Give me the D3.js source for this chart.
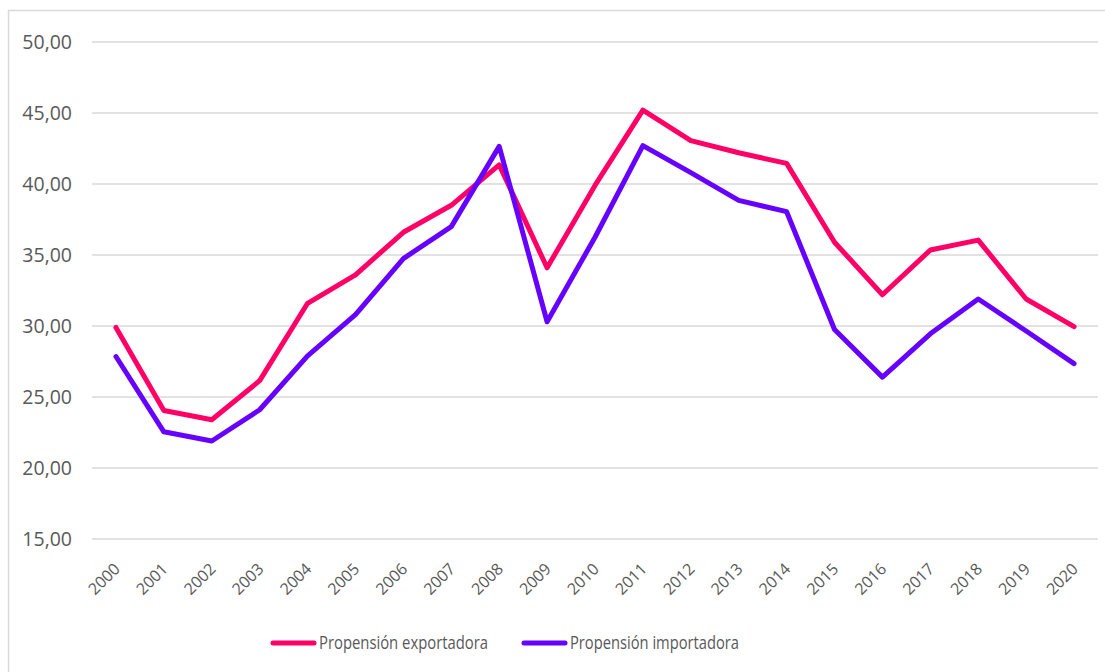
<!DOCTYPE html>
<html>
<head>
<meta charset="utf-8">
<script src="https://cdn.jsdelivr.net/npm/d3@7"></script>
<style>
  body { margin: 0; background: #fff; }
  svg { display: block; font-family: "Open Sans", "Noto Sans", sans-serif; }
</style>
</head>
<body>
<div id="chart"></div>
<script>
// data
const years = ['2000','2001','2002','2003','2004','2005','2006','2007','2008','2009','2010',
  '2011','2012','2013','2014','2015','2016','2017','2018','2019','2020'];
const exportadora = [29.9, 24.05, 23.4, 26.15, 31.6, 33.6, 36.6, 38.5, 41.35, 34.1, 39.9,
  45.2, 43.05, 42.2, 41.45, 35.9, 32.2, 35.35, 36.05, 31.9, 29.95];
const importadora = [27.85, 22.55, 21.9, 24.1, 27.9, 30.8, 34.75, 37.0, 42.65, 30.3, 36.25,
  42.7, 40.8, 38.85, 38.05, 29.75, 26.4, 29.45, 31.9, 29.65, 27.35];
const yTicks = [15, 20, 25, 30, 35, 40, 45, 50];
const seriesNames = ['Propensión exportadora', 'Propensión importadora'];
const colors = ['#FF0066', '#6600FF'];

const width = 1105, height = 672;
const margin = {top: 42, right: 7, bottom: 133, left: 92};

const svg = d3.select('#chart').append('svg')
  .attr('width', width)
  .attr('height', height);

// chart frame (only top and left edges visible)
svg.append('path')
  .attr('d', 'M8.5,' + height + 'V10.5H' + width)
  .attr('fill', 'none')
  .attr('stroke', '#d9d9d9')
  .attr('stroke-width', 1.5);

const x = d3.scaleBand()
  .domain(years)
  .range([margin.left, width - margin.right]);

const y = d3.scaleLinear()
  .domain([15, 50])
  .range([height - margin.bottom, margin.top]);

// gridlines
svg.append('g')
  .selectAll('line')
  .data(yTicks)
  .join('line')
  .attr('x1', margin.left)
  .attr('x2', width - margin.right)
  .attr('y1', d => y(d))
  .attr('y2', d => y(d))
  .attr('stroke', '#d9d9d9')
  .attr('stroke-width', 1.5);

// y labels
const fmt = d => d3.format('.2f')(d).replace('.', ',');
svg.append('g')
  .selectAll('text')
  .data(yTicks)
  .join('text')
  .attr('x', 72)
  .attr('y', d => y(d))
  .attr('dy', '0.35em')
  .attr('text-anchor', 'end')
  .attr('fill', '#595959')
  .style('font-size', '19.5px')
  .text(fmt);

// x labels, rotated
svg.append('g')
  .selectAll('text')
  .data(years)
  .join('text')
  .attr('transform', d => `translate(${x(d) + x.bandwidth() / 2 + 1},${y(15) + 27}) rotate(-45)`)
  .attr('text-anchor', 'end')
  .attr('dy', '0.35em')
  .attr('fill', '#595959')
  .style('font-size', '16px')
  .text(d => d);

const line = d3.line()
  .x((d, i) => x(years[i]) + x.bandwidth() / 2)
  .y(d => y(d));

[exportadora, importadora].forEach((s, i) => {
  svg.append('path')
    .datum(s)
    .attr('fill', 'none')
    .attr('stroke', colors[i])
    .attr('stroke-width', 5)
    .attr('stroke-linejoin', 'round')
    .attr('stroke-linecap', 'round')
    .attr('d', line);
});

// legend
const legendX = [273, 524];
const legend = svg.append('g')
  .selectAll('g')
  .data(seriesNames)
  .join('g')
  .attr('transform', (d, i) => `translate(${legendX[i]},643)`);

legend.append('line')
  .attr('x1', 0).attr('x2', 41)
  .attr('stroke', (d, i) => colors[i])
  .attr('stroke-width', 5)
  .attr('stroke-linecap', 'round');

legend.append('text')
  .attr('x', 46)
  .attr('dy', '0.35em')
  .attr('fill', '#595959')
  .style('font-size', '17.5px')
  .attr('textLength', 169)
  .attr('lengthAdjust', 'spacingAndGlyphs')
  .text(d => d);
</script>
</body>
</html>
